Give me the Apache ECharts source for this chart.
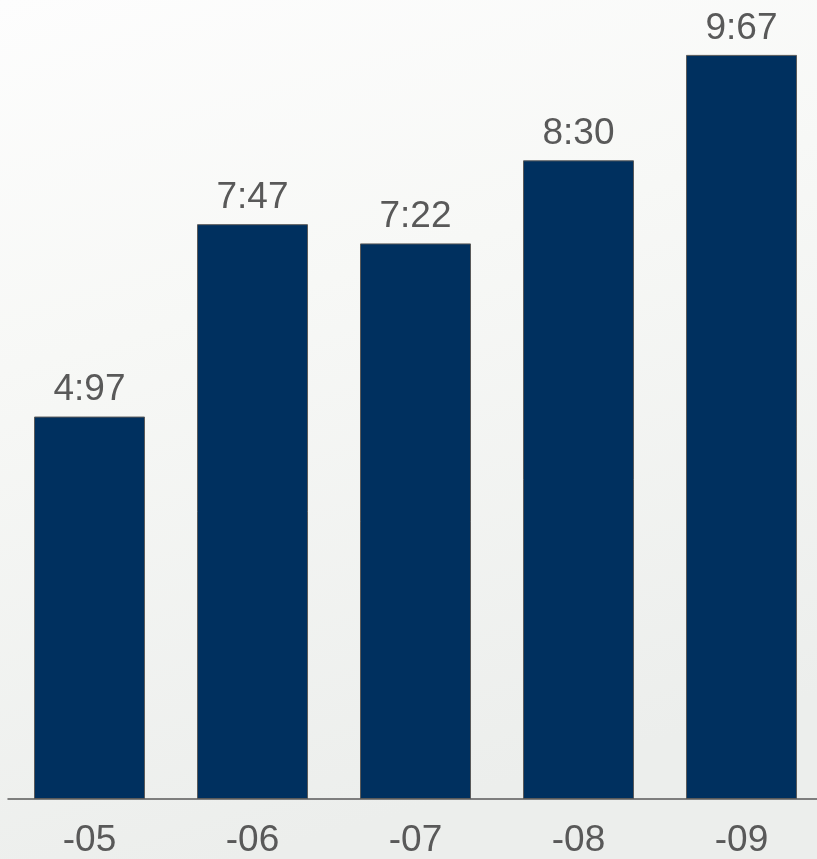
<!DOCTYPE html>
<html>
<head>
<meta charset="utf-8">
<script src="https://cdn.jsdelivr.net/npm/echarts@6/dist/echarts.min.js"></script>
<style>
html,body{margin:0;padding:0;}
#c{width:817px;height:859px;}
</style>
</head>
<body>
<div id="c"></div>
<script>
var categories = ['-05', '-06', '-07', '-08', '-09'];
var values = [4.97, 7.47, 7.22, 8.30, 9.67];

var chart = echarts.init(document.getElementById('c'));
chart.setOption({
  backgroundColor: {
    type: 'linear', x: 0, y: 0, x2: 0.3, y2: 1,
    colorStops: [
      {offset: 0, color: '#fdfdfd'},
      {offset: 0.4, color: '#f7f8f6'},
      {offset: 1, color: '#eceeec'}
    ]
  },
  animation: false,
  grid: {left: 8, width: 815, top: 29.5, bottom: 60, outerBoundsMode: 'none', containLabel: false},
  xAxis: {
    type: 'category',
    data: categories,
    axisLine: {lineStyle: {color: '#595959', width: 1.5}},
    axisTick: {show: false},
    axisLabel: {
      fontFamily: 'Liberation Sans, Arial, sans-serif',
      fontSize: 37,
      color: '#595959',
      margin: 23
    }
  },
  yAxis: {
    type: 'value',
    min: 0,
    max: 10,
    show: false,
    splitLine: {show: false}
  },
  series: [{
    type: 'bar',
    data: values,
    barWidth: 111,
    itemStyle: {color: '#00305f', borderColor: '#5a5a5a', borderWidth: 1},
    label: {
      show: true,
      position: 'top',
      distance: 8,
      fontFamily: 'Liberation Sans, Arial, sans-serif',
      fontSize: 37,
      color: '#595959',
      formatter: function (p) { return p.value.toFixed(2).replace('.', ':'); }
    }
  }]
});
</script>
</body>
</html>
